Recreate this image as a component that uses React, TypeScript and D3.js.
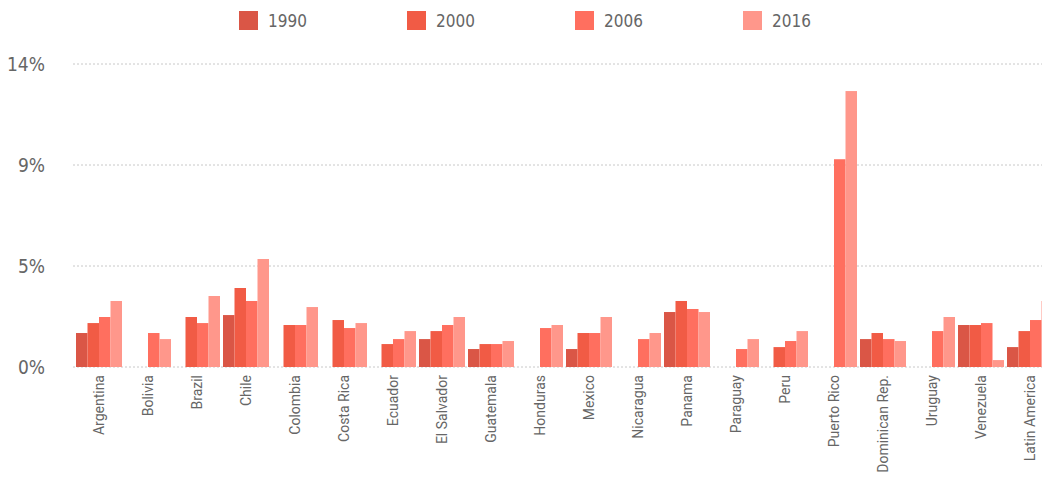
import React from "react";
import * as d3 from "d3";

const categories = ["Argentina","Bolivia","Brazil","Chile","Colombia","Costa Rica","Ecuador","El Salvador","Guatemala","Honduras","Mexico","Nicaragua","Panama","Paraguay","Peru","Puerto Rico","Dominican Rep.","Uruguay","Venezuela","Latin America"];
const years = ["1990","2000","2006","2016"];
const v1990 = [1.57,0,0,2.4,0,0,0,1.29,0.83,0,0.83,0,2.54,0,0,0,1.29,0,1.94,0.92];
const v2000 = [2.03,0,2.31,3.65,1.94,2.17,1.06,1.66,1.06,0,1.57,0,3.05,0,0.92,0,1.57,0,1.94,1.66];
const v2006 = [2.31,1.57,2.03,3.05,1.94,1.8,1.29,1.94,1.06,1.8,1.57,1.29,2.68,0.83,1.2,9.6,1.29,1.66,2.03,2.17];
const v2016 = [3.05,1.29,3.28,4.99,2.77,2.03,1.66,2.31,1.2,1.94,2.31,1.57,2.54,1.29,1.66,12.75,1.2,2.31,0.32,3.05];
const seriesValues = [v1990, v2000, v2006, v2016];
const colors = ["#DA5646", "#F15B45", "#FF6F5F", "#FF978B"];
const yTicks = [0, 14 / 3, 28 / 3, 14];

const W = 1042, H = 479;
const condensed = "'Liberation Sans Narrow', 'DejaVu Sans Condensed', Roboto, sans-serif";

export default function App() {
  const x = d3.scaleBand<string>().domain(categories).range([74.5, 1054.5]).paddingInner(3 / 49).paddingOuter(1.5 / 49);
  const xi = d3.scaleBand<string>().domain(years).range([0, x.bandwidth()]);
  const y = d3.scaleLinear().domain([0, 14]).range([367, 64]);
  const fmt = d3.format(".0f");
  const legendX = d3.scalePoint<string>().domain(years).range([239, 743]);

  return (
    <svg width={W} height={H} style={{ position: "absolute", left: 0, top: 0, background: "#fff" }}>
      {yTicks.map((t, i) => (
        <g key={i}>
          <line x1={73} x2={W} y1={y(t)} y2={y(t)} stroke="#c8c8c8" strokeWidth={1} strokeDasharray="2,2" />
          <text x={45} y={y(t)} dy="0.35em" textAnchor="end" fontFamily={condensed} fontSize={19} fill="#666">{fmt(t) + "%"}</text>
        </g>
      ))}
      {seriesValues.map((vals, si) => (
        <g key={si} fill={colors[si]}>
          {vals.map((v, ci) => v > 0 ? (
            <rect key={ci} x={(x(categories[ci]) as number) + (xi(years[si]) as number)} y={y(v)} width={xi.bandwidth()} height={y(0) - y(v)} />
          ) : null)}
        </g>
      ))}
      {categories.map((c) => (
        <text key={c} transform={`translate(${(x(c) as number) + x.bandwidth() / 2},375) rotate(-90)`} textAnchor="end" dy="0.35em" fontFamily="Roboto, sans-serif" fontSize={14} fill="#666">{c}</text>
      ))}
      {years.map((yr, i) => (
        <g key={yr} transform={`translate(${legendX(yr)},11)`}>
          <rect width={19} height={19} fill={colors[i]} />
          <text x={29} y={10} dy="0.35em" fontFamily={condensed} fontSize={17} fill="#666">{yr}</text>
        </g>
      ))}
    </svg>
  );
}
